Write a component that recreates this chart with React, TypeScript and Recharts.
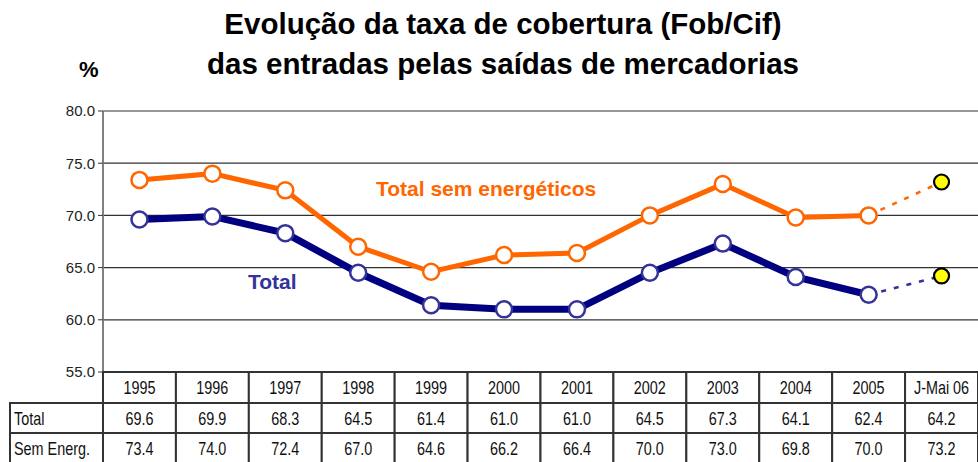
import React from "react";
import { LineChart, Line, XAxis, YAxis, CartesianGrid } from "recharts";

const categories = ["1995", "1996", "1997", "1998", "1999", "2000", "2001", "2002", "2003", "2004", "2005", "J-Mai 06"];
const totalValues = [69.6, 69.9, 68.3, 64.5, 61.4, 61.0, 61.0, 64.5, 67.3, 64.1, 62.4, 64.2];
const semEnergValues = [73.4, 74.0, 72.4, 67.0, 64.6, 66.2, 66.4, 70.0, 73.0, 69.8, 70.0, 73.2];
const yTicks = [55, 60, 65, 70, 75, 80];
const rowLabels = ["Total", "Sem Energ."];

const W = 978;
const H = 462;
const PLOT_LEFT = 103;
const PLOT_TOP = 111;
const PLOT_BOTTOM = 372;
const COL_W = (W - PLOT_LEFT) / categories.length;
const ROW_H = 30;

const NAVY = "#000080";
const ORANGE = "#FF6600";
const arial = "'Liberation Sans', Arial, sans-serif";
const SQUEEZE = 0.8;

const last = categories.length - 1;
const data = categories.map((name, i) => ({
  name,
  total: i < last ? totalValues[i] : null,
  sem: i < last ? semEnergValues[i] : null,
  totalProj: i >= last - 1 ? totalValues[i] : null,
  semProj: i >= last - 1 ? semEnergValues[i] : null,
}));

// narrow text: regular sans squeezed horizontally around its anchor
const NarrowText = ({ x, y, anchor, children }: any) => (
  <text
    x={x / SQUEEZE}
    y={y}
    transform={`scale(${SQUEEZE},1)`}
    textAnchor={anchor}
    fontFamily={arial}
    fontSize={18}
    fill="#111"
  >
    {children}
  </text>
);

const TableTick = (props: any) => {
  const { x, index } = props;
  const left = x - COL_W / 2;
  const cells = [
    { y: PLOT_BOTTOM, text: categories[index] },
    { y: PLOT_BOTTOM + ROW_H + 1, text: totalValues[index].toFixed(1) },
    { y: PLOT_BOTTOM + 2 * ROW_H + 1, text: semEnergValues[index].toFixed(1) },
  ];
  return (
    <g>
      {cells.map((c, k) => (
        <g key={k}>
          <rect x={left} y={c.y} width={COL_W} height={k === 0 ? ROW_H + 1 : ROW_H} fill="#fff" stroke="#333" strokeWidth={2} />
          <NarrowText x={x} y={c.y + 22} anchor="middle">
            {c.text}
          </NarrowText>
        </g>
      ))}
      {index === 0 &&
        rowLabels.map((lab, k) => (
          <g key={lab}>
            <rect x={10} y={PLOT_BOTTOM + (k + 1) * ROW_H + 1} width={left - 10} height={ROW_H} fill="#fff" stroke="#333" strokeWidth={2} />
            <NarrowText x={14} y={PLOT_BOTTOM + (k + 1) * ROW_H + 23} anchor="start">
              {lab}
            </NarrowText>
          </g>
        ))}
    </g>
  );
};

const hollowDot = (color: string) => (p: any) => {
  if (p.value == null) return <g key={p.index} />;
  return <circle key={p.index} cx={p.cx} cy={p.cy} r={8} fill="#fff" stroke={color} strokeWidth={2.5} />;
};

const yellowDot = (p: any) => {
  if (p.index !== last) return <g key={p.index} />;
  return <circle key={p.index} cx={p.cx} cy={p.cy} r={7.5} fill="#FFFF00" stroke="#000" strokeWidth={2.2} />;
};

export default function App() {
  return (
    <div style={{ position: "relative", width: W, height: H, background: "#fff", overflow: "hidden" }}>
      <style>{"body{margin:0}"}</style>
      <div style={{ position: "absolute", left: 0, top: 4, width: 1006, textAlign: "center", fontFamily: arial, fontWeight: "bold", fontSize: 29.5, lineHeight: "40px", color: "#000" }}>
        Evolução da taxa de cobertura (Fob/Cif)
        <br />
        das entradas pelas saídas de mercadorias
      </div>
      <div style={{ position: "absolute", left: 79, top: 57, fontFamily: arial, fontWeight: "bold", fontSize: 22, color: "#000" }}>%</div>
      <LineChart width={W} height={H} data={data} margin={{ top: PLOT_TOP, right: 0, bottom: 0, left: PLOT_LEFT - 50 }}>
        <CartesianGrid vertical={false} stroke="#333" strokeWidth={1.2} />
        <XAxis
          dataKey="name"
          height={H - PLOT_BOTTOM}
          padding={{ left: COL_W / 2, right: COL_W / 2 }}
          axisLine={false}
          tickLine={false}
          interval={0}
          tick={<TableTick />}
        />
        <YAxis
          width={50}
          domain={[55, 80]}
          ticks={yTicks}
          tickFormatter={(v: number) => v.toFixed(1)}
          axisLine={{ stroke: "#808080", strokeWidth: 2 }}
          tickLine={{ stroke: "#333" }}
          tickSize={5}
          tickMargin={3}
          tick={{ fontFamily: arial, fontSize: 15, fill: "#222" }}
        />
        <Line dataKey="semProj" stroke={ORANGE} strokeWidth={2.5} strokeDasharray="5 8" dot={yellowDot} isAnimationActive={false} connectNulls={false} />
        <Line dataKey="totalProj" stroke="#333399" strokeWidth={2.5} strokeDasharray="5 8" dot={yellowDot} isAnimationActive={false} connectNulls={false} />
        <Line dataKey="sem" stroke={ORANGE} strokeWidth={5} dot={hollowDot(ORANGE)} isAnimationActive={false} />
        <Line dataKey="total" stroke={NAVY} strokeWidth={7} dot={hollowDot("#333399")} isAnimationActive={false} />
      </LineChart>
      <div style={{ position: "absolute", left: 376, top: 177, fontFamily: arial, fontWeight: "bold", fontSize: 21, color: ORANGE }}>Total sem energéticos</div>
      <div style={{ position: "absolute", left: 248, top: 270, fontFamily: arial, fontWeight: "bold", fontSize: 21, color: "#333399" }}>Total</div>
    </div>
  );
}
